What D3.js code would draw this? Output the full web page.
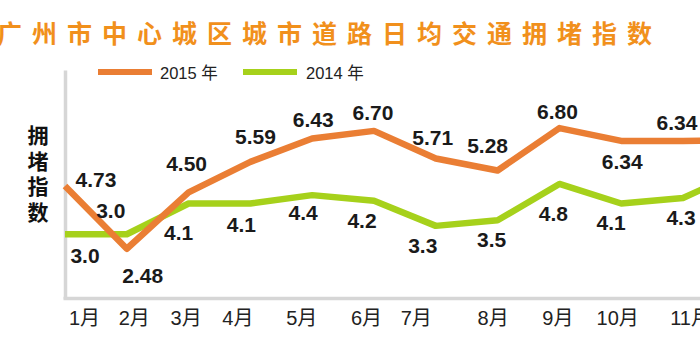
<!DOCTYPE html>
<html><head><meta charset="utf-8">
<script src="https://cdn.jsdelivr.net/npm/d3@7"></script>
<style>
html,body{margin:0;padding:0;background:#fff;overflow:hidden;}
svg{display:block;}
</style></head>
<body>
<svg id="chart" width="700" height="350"></svg>
<script>
// ---- data ----
const title = "广州市中心城区城市道路日均交通拥堵指数";
const months = ["1月","2月","3月","4月","5月","6月","7月","8月","9月","10月","11月","12月"];
const series2015 = [4.73, 2.48, 4.50, 5.59, 6.43, 6.70, 5.71, 5.28, 6.80, 6.34, 6.34, 6.35];
const series2014 = [3.0, 3.0, 4.1, 4.1, 4.4, 4.2, 3.3, 3.5, 4.8, 4.1, 4.3, 5.3];
const labels2015 = ["4.73","2.48","4.50","5.59","6.43","6.70","5.71","5.28","6.80","6.34","6.34",""];
const labels2014 = ["3.0","3.0","4.1","4.1","4.4","4.2","3.3","3.5","4.8","4.1","4.3",""];
const seriesNames = ["2015 年","2014 年"];
const yTitle = ["拥","堵","指","数"];

// ---- layout (label placement offsets, px) ----
const off2015 = [[31,-6],[16,27],[-2,-29],[5,-25],[1,-19],[-1,-18],[-3,-21],[-10,-25],[-2,-17],[1,21],[-6,-18],[0,0]];
const off2014 = [[20,21],[-16,-24],[-10,29],[-9,21],[-9,17],[-12,20],[-13,20],[-6,19],[-6,29],[-10,19],[-2,20],[0,0]];
const tickDx = [19,7,-3,-13,-11,-8,-20,-5,-2,-4,7,0];

const C_ORANGE = "#EA7E34", C_GREEN = "#A6D11B", C_TITLE = "#F1901C", C_AXIS = "#d6d6d6";
const svg = d3.select("#chart");

const x = d3.scalePoint().domain(months).range([65, 65 + 61.8 * 11]);
const y = d3.scaleLinear().domain([0.7, 7.0]).range([298.5, 122.5]);

// title
svg.append("text").attr("x", -3).attr("y", 43)
  .attr("font-family", "'Noto Sans CJK SC', sans-serif").attr("font-weight", 700)
  .attr("font-size", 25).attr("letter-spacing", 10).attr("fill", C_TITLE).text(title);

// legend
const legend = [[C_ORANGE, 98, 160], [C_GREEN, 243, 306]];
legend.forEach((l, i) => {
  svg.append("line").attr("x1", l[1]).attr("x2", l[1] + 54).attr("y1", 72).attr("y2", 72)
    .attr("stroke", l[0]).attr("stroke-width", 6);
  svg.append("text").attr("x", l[2]).attr("y", 78.5)
    .attr("font-family", "'Liberation Sans', 'Noto Sans CJK SC', sans-serif")
    .attr("font-size", 16.5).attr("fill", "#222").text(seriesNames[i]);
});

// y title (vertical)
yTitle.forEach((c, i) => {
  svg.append("text").attr("x", 38).attr("y", 143 + i * 25.5).attr("text-anchor", "middle")
    .attr("font-family", "'Noto Sans CJK SC', sans-serif").attr("font-weight", 700)
    .attr("font-size", 21).attr("fill", "#111").text(c);
});

// axes
const yAxisG = svg.append("g").attr("transform", "translate(65,0)")
  .call(d3.axisLeft(d3.scaleLinear().range([70, 298.5])).ticks(0).tickSize(0));
yAxisG.select(".domain").attr("stroke", C_AXIS).attr("stroke-width", 3.5);

const xAxisG = svg.append("g").attr("transform", "translate(0,298.5)")
  .call(d3.axisBottom(x).tickSize(0).tickPadding(12));
xAxisG.select(".domain").attr("stroke", C_AXIS).attr("stroke-width", 3.5)
  .attr("d", "M63.5,0H700");
xAxisG.selectAll(".tick text")
  .attr("dx", (d, i) => tickDx[i])
  .attr("font-family", "'Liberation Sans', 'Noto Sans CJK SC', sans-serif")
  .attr("font-size", 20).attr("fill", "#222");

// lines
const line = d3.line().x((d, i) => x(months[i])).y(d => y(d));
svg.append("path").datum(series2014).attr("d", line).attr("fill", "none")
  .attr("stroke", C_GREEN).attr("stroke-width", 6.5).attr("stroke-linejoin", "round");
svg.append("path").datum(series2015).attr("d", line).attr("fill", "none")
  .attr("stroke", C_ORANGE).attr("stroke-width", 6.5).attr("stroke-linejoin", "round");

// value labels
function addLabels(vals, labs, offs) {
  svg.append("g").selectAll("text").data(vals).join("text")
    .attr("x", (d, i) => x(months[i]) + offs[i][0])
    .attr("y", (d, i) => y(d) + offs[i][1])
    .attr("dy", "0.36em").attr("text-anchor", "middle")
    .attr("font-family", "'Liberation Sans', Arial, sans-serif").attr("font-weight", 700)
    .attr("font-size", 21).attr("fill", "#1a1a1a")
    .text((d, i) => labs[i]);
}
addLabels(series2015, labels2015, off2015);
addLabels(series2014, labels2014, off2014);
</script>
</body></html>
